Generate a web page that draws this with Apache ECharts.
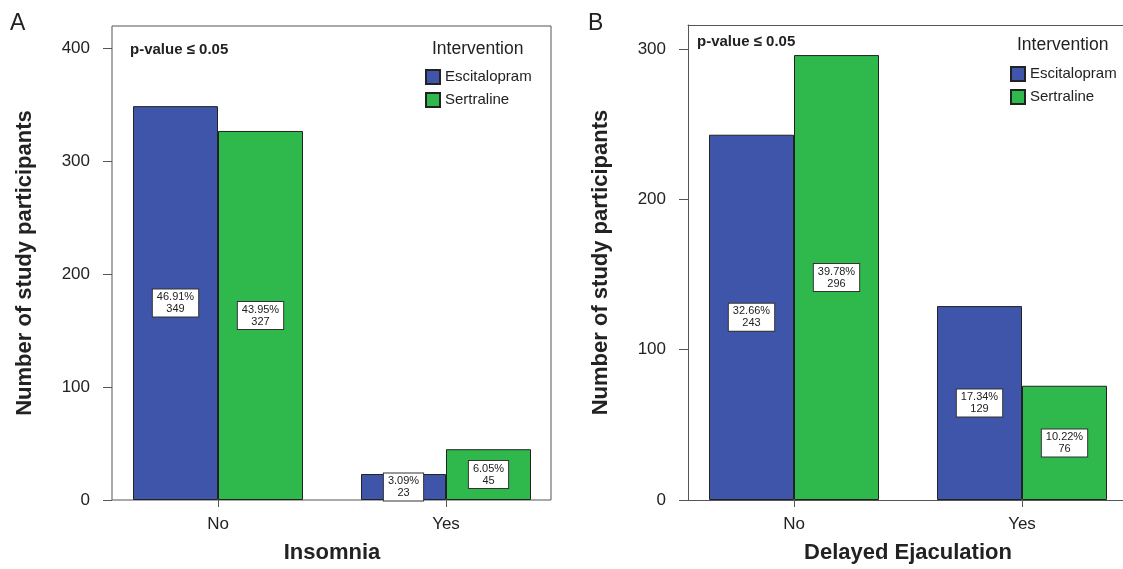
<!DOCTYPE html>
<html>
<head>
<meta charset="utf-8">
<script src="https://cdn.jsdelivr.net/npm/echarts@6/dist/echarts.min.js"></script>
<style>
  html, body { margin: 0; padding: 0; background: #fff; }
  #chart { width: 1123px; height: 569px; }
</style>
</head>
<body>
<div id="chart"></div>
<script>
// Outcome categories and participant counts per intervention
const categories = ['No', 'Yes'];
const seriesNames = ['Escitalopram', 'Sertraline'];

const insomniaEscitalopram = [349, 23];
const insomniaSertraline = [327, 45];
const insomniaEscitalopramPct = ['46.91%', '3.09%'];
const insomniaSertralinePct = ['43.95%', '6.05%'];

const ejaculationEscitalopram = [243, 129];
const ejaculationSertraline = [296, 76];
const ejaculationEscitalopramPct = ['32.66%', '17.34%'];
const ejaculationSertralinePct = ['39.78%', '10.22%'];

const yTicksA = [0, 100, 200, 300, 400];
const yTicksB = [0, 100, 200, 300];
const yMaxA = 420;
const yMaxB = 316;

const FONT = 'Liberation Sans, Arial, sans-serif';
const TEXT = '#222';
const LINE = '#555';
const BLUE = '#3e55a9';
const GREEN = '#2fb84c';

const chart = echarts.init(document.getElementById('chart'));

// Visible value axis on the framed plot area
function visibleY(gridIndex, max, ticks, showLine) {
  return {
    type: 'value', gridIndex, min: 0, max, interval: 100,
    name: 'Number of study participants',
    nameLocation: 'middle', nameGap: 76,
    nameTextStyle: { fontFamily: FONT, fontSize: 22, fontWeight: 'bold', color: TEXT },
    axisLine: { show: showLine, lineStyle: { color: LINE } },
    axisTick: { show: true, length: 9, customValues: ticks, lineStyle: { color: LINE } },
    axisLabel: { customValues: ticks, margin: 22, fontFamily: FONT, fontSize: 17, color: TEXT },
    splitLine: { show: false }
  };
}
function hiddenY(gridIndex, max) {
  return { type: 'value', gridIndex, min: 0, max, show: false, splitLine: { show: false } };
}
// Plain edge line (frame side) built from a label-less value axis
function edgeX(gridIndex, position, showLine) {
  return {
    type: 'value', gridIndex, min: 0, max: 1, position,
    axisLine: { show: showLine, onZero: false, lineStyle: { color: LINE } },
    axisTick: { show: false }, axisLabel: { show: false }, splitLine: { show: false }
  };
}
// Category axis whose two points sit at the group centres
function categoryX(gridIndex, name) {
  return {
    type: 'category', gridIndex, data: categories, boundaryGap: false,
    name, nameLocation: 'middle', nameGap: 42,
    nameTextStyle: { fontFamily: FONT, fontSize: 22, fontWeight: 'bold', color: TEXT },
    axisLine: { show: false },
    axisTick: { show: true, length: 7, lineStyle: { color: LINE } },
    axisLabel: { margin: 16, fontFamily: FONT, fontSize: 17, color: TEXT },
    splitLine: { show: false }
  };
}
function barSeries(name, axisIndex, values, pct, color) {
  return {
    type: 'bar', name, clip: false,
    xAxisIndex: axisIndex, yAxisIndex: axisIndex,
    data: values,
    barWidth: 85, barGap: '0%',
    itemStyle: { color, borderColor: '#222', borderWidth: 1 },
    label: {
      show: true, position: 'inside',
      formatter: p => pct[p.dataIndex] + '\n' + p.value,
      fontFamily: FONT, fontSize: 11, lineHeight: 12, color: TEXT,
      backgroundColor: '#fff', borderColor: '#333', borderWidth: 1,
      padding: [2, 4, 1, 4]
    }
  };
}
function legendAt(left, top) {
  return {
    orient: 'vertical', left, top, padding: 0,
    data: seriesNames, itemWidth: 14, itemHeight: 14, itemGap: 7,
    icon: 'rect', selectedMode: false,
    textStyle: { fontFamily: FONT, fontSize: 15, color: TEXT }
  };
}
function text(t, left, top, size, weight) {
  return { text: t, left, top, padding: 0,
    textStyle: { fontFamily: FONT, fontSize: size, fontWeight: weight, color: TEXT } };
}

chart.setOption({
  backgroundColor: '#fff',
  animation: false,
  title: [
    text('A', 10, 12, 23, 'normal'),
    text('B', 588, 12, 23, 'normal'),
    text('p-value ≤ 0.05', 130, 42, 15, 'bold'),
    text('p-value ≤ 0.05', 697, 34, 15, 'bold'),
    text('Intervention', 432, 40, 17.5, 'normal'),
    text('Intervention', 1017, 36, 17.5, 'normal')
  ],
  legend: [legendAt(425, 69), legendAt(1010, 66)],
  grid: [
    { left: 112, top: 26, width: 439, height: 474, show: true, borderColor: LINE, borderWidth: 1, backgroundColor: 'transparent' },
    { left: 218, top: 26, width: 228, height: 474 },
    { left: 688, top: 25, right: 0, height: 475 },
    { left: 794, top: 25, width: 228, height: 475 }
  ],
  xAxis: [
    edgeX(0, 'bottom', false),
    categoryX(1, 'Insomnia'),
    edgeX(2, 'bottom', true),
    categoryX(3, 'Delayed Ejaculation'),
    edgeX(2, 'top', true)
  ],
  yAxis: [
    visibleY(0, yMaxA, yTicksA, false),
    hiddenY(1, yMaxA),
    visibleY(2, yMaxB, yTicksB, true),
    hiddenY(3, yMaxB)
  ],
  series: [
    barSeries('Escitalopram', 1, insomniaEscitalopram, insomniaEscitalopramPct, BLUE),
    barSeries('Sertraline', 1, insomniaSertraline, insomniaSertralinePct, GREEN),
    barSeries('Escitalopram', 3, ejaculationEscitalopram, ejaculationEscitalopramPct, BLUE),
    barSeries('Sertraline', 3, ejaculationSertraline, ejaculationSertralinePct, GREEN)
  ]
});
</script>
</body>
</html>
